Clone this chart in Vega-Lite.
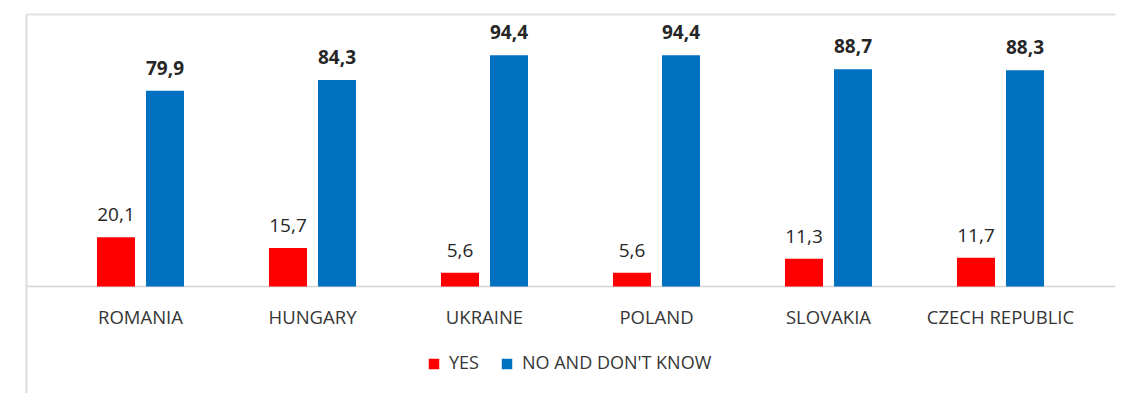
{
  "$schema": "https://vega.github.io/schema/vega-lite/v6.json",
  "width": 1089,
  "height": 389,
  "autosize": {"type": "none"},
  "padding": {"left": 26, "top": 14, "right": 8, "bottom": 0},
  "background": "white",
  "config": {
    "view": {"stroke": null},
    "font": "Open Sans",
    "locale": {"number": {"decimal": ",", "thousands": ".", "grouping": [3], "currency": ["", "€"]}}
  },
  "data": {
    "values": [
      {"country": "ROMANIA", "answer": "YES", "value": 20.1},
      {"country": "ROMANIA", "answer": "NO AND DON'T KNOW", "value": 79.9},
      {"country": "HUNGARY", "answer": "YES", "value": 15.7},
      {"country": "HUNGARY", "answer": "NO AND DON'T KNOW", "value": 84.3},
      {"country": "UKRAINE", "answer": "YES", "value": 5.6},
      {"country": "UKRAINE", "answer": "NO AND DON'T KNOW", "value": 94.4},
      {"country": "POLAND", "answer": "YES", "value": 5.6},
      {"country": "POLAND", "answer": "NO AND DON'T KNOW", "value": 94.4},
      {"country": "SLOVAKIA", "answer": "YES", "value": 11.3},
      {"country": "SLOVAKIA", "answer": "NO AND DON'T KNOW", "value": 88.7},
      {"country": "CZECH REPUBLIC", "answer": "YES", "value": 11.7},
      {"country": "CZECH REPUBLIC", "answer": "NO AND DON'T KNOW", "value": 88.3}
    ]
  },
  "encoding": {
    "x": {
      "field": "country",
      "type": "nominal",
      "sort": ["ROMANIA", "HUNGARY", "UKRAINE", "POLAND", "SLOVAKIA", "CZECH REPUBLIC"],
      "scale": {"paddingInner": 0.494, "paddingOuter": 0.4127},
      "axis": {
        "title": null,
        "orient": "bottom",
        "offset": -116.5,
        "domain": false,
        "ticks": false,
        "labelAngle": 0,
        "labelFont": "Open Sans",
        "labelFontSize": 18.5,
        "labelColor": "#363636",
        "labelBaseline": "alphabetic",
        "labelPadding": 36.5
      }
    },
    "xOffset": {
      "field": "answer",
      "type": "nominal",
      "sort": ["YES", "NO AND DON'T KNOW"],
      "scale": {"domain": ["YES", "NO AND DON'T KNOW"], "paddingInner": 0.2245, "paddingOuter": 0}
    },
    "y": {
      "field": "value",
      "type": "quantitative",
      "scale": {"domain": [-47.55, 111.22], "nice": false, "zero": false},
      "axis": {
        "title": null,
        "labels": false,
        "ticks": false,
        "domain": true,
        "domainColor": "#dcdcdc",
        "domainWidth": 2,
        "grid": true,
        "values": [0, 111.22],
        "gridColor": {"condition": {"test": "datum.value == 0", "value": "#d4d4d4"}, "value": "#e2e2e2"},
        "gridWidth": {"condition": {"test": "datum.value == 0", "value": 1.5}, "value": 2}
      }
    }
  },
  "layer": [
    {
      "mark": {"type": "bar"},
      "encoding": {
        "y2": {"datum": 0},
        "color": {
          "field": "answer",
          "type": "nominal",
          "scale": {"domain": ["YES", "NO AND DON'T KNOW"], "range": ["#FF0000", "#0070C0"]},
          "legend": {
            "title": null,
            "orient": "none",
            "direction": "horizontal",
            "legendX": 399,
            "legendY": 341,
            "padding": 0,
            "symbolType": "square",
            "symbolSize": 110,
            "symbolStrokeWidth": 0,
            "labelFont": "Open Sans",
            "labelFontSize": 18,
            "labelColor": "#363636",
            "labelOffset": 6,
            "labelLimit": 400,
            "columnPadding": 19
          }
        }
      }
    },
    {
      "transform": [{"filter": "datum.answer == 'YES'"}],
      "mark": {"type": "text", "baseline": "alphabetic", "dy": -16, "fontSize": 19, "font": "Open Sans", "color": "#262626"},
      "encoding": {"text": {"field": "value", "type": "quantitative", "format": ".1f"}}
    },
    {
      "transform": [{"filter": "datum.answer != 'YES'"}],
      "mark": {"type": "text", "baseline": "alphabetic", "dy": -16, "fontSize": 19, "font": "Open Sans", "fontWeight": "bold", "color": "#262626"},
      "encoding": {"text": {"field": "value", "type": "quantitative", "format": ".1f"}}
    }
  ]
}
